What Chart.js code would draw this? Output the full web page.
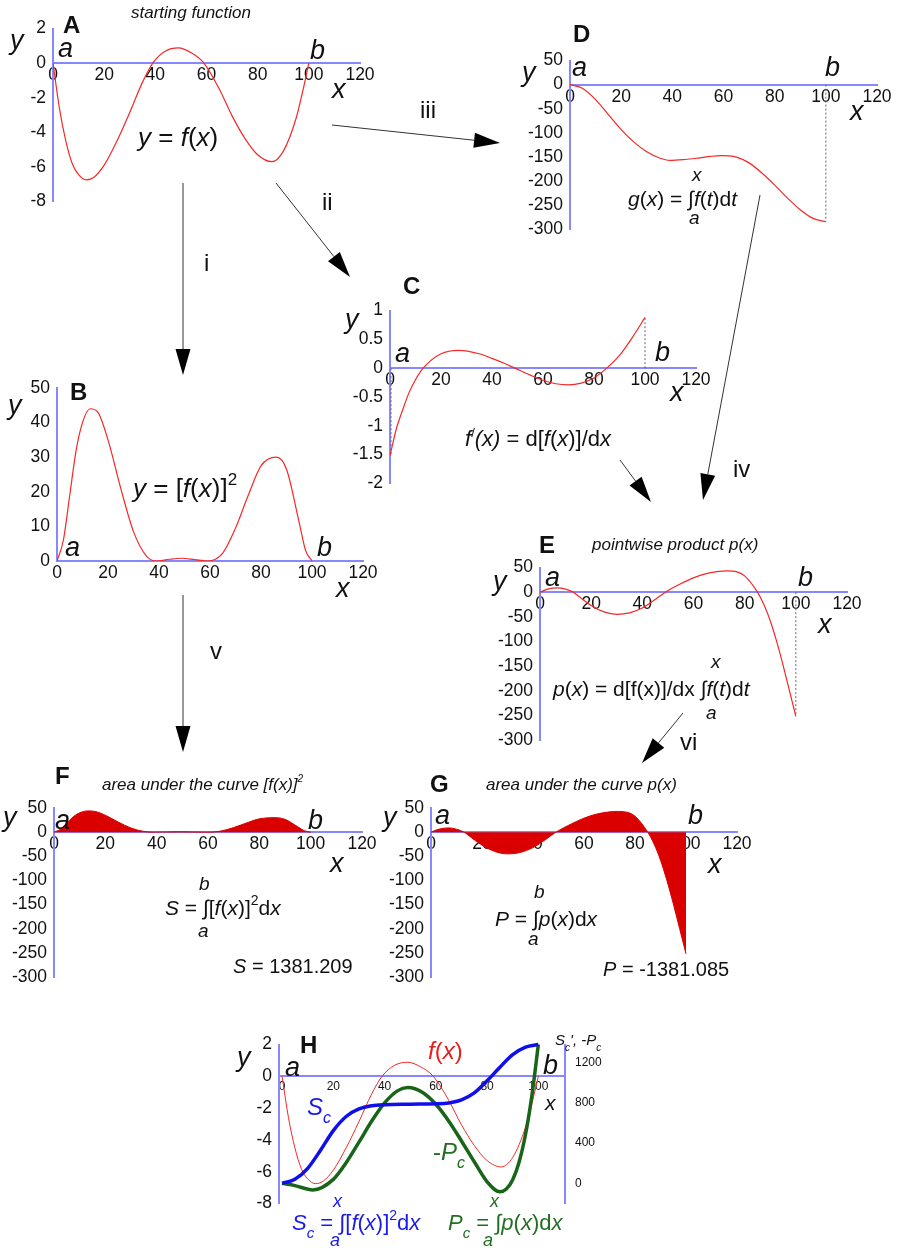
<!DOCTYPE html>
<html>
<head>
<meta charset="utf-8">
<script src="https://cdn.jsdelivr.net/npm/chart.js@4/dist/chart.umd.min.js"></script>
<style>
html,body{margin:0;padding:0;background:#fff;}
#page{position:relative;width:897px;height:1248px;overflow:hidden;background:#fff;}
#page canvas{position:absolute;left:0;top:0;}
#ov{position:absolute;left:0;top:0;pointer-events:none;}
#ov text{font-family:"Liberation Sans",Arial,sans-serif;fill:#111;}
#ov .it{font-style:italic;}
#ov .lt{font-weight:bold;font-size:24px;}
#ov .ax{font-style:italic;font-size:27px;}
#ov .cap{font-style:italic;font-size:17px;}
#ov .rn{font-size:24px;}
</style>
</head>
<body>
<div id="page">
<canvas id="cA" width="897" height="1248"></canvas>
<canvas id="cB" width="897" height="1248"></canvas>
<canvas id="cC" width="897" height="1248"></canvas>
<canvas id="cD" width="897" height="1248"></canvas>
<canvas id="cE" width="897" height="1248"></canvas>
<canvas id="cF" width="897" height="1248"></canvas>
<canvas id="cG" width="897" height="1248"></canvas>
<canvas id="cH" width="897" height="1248"></canvas>

<svg id="ov" width="897" height="1248" viewBox="0 0 897 1248">
  <!-- panel letters -->
  <text class="lt" x="63" y="33">A</text>
  <text class="lt" x="70" y="400">B</text>
  <text class="lt" x="403" y="294">C</text>
  <text class="lt" x="573" y="42">D</text>
  <text class="lt" x="539" y="553">E</text>
  <text class="lt" x="55" y="784">F</text>
  <text class="lt" x="430" y="792">G</text>
  <text class="lt" x="300" y="1053">H</text>

  <!-- captions -->
  <text class="cap" x="131" y="18">starting function</text>
  <text class="cap" x="592" y="550">pointwise product p(x)</text>
  <text class="cap" x="102" y="790">area under the curve [f(x)]<tspan font-size="10" dy="-8">2</tspan></text>
  <text class="cap" x="486" y="790">area under the curve p(x)</text>

  <!-- axis letters: A -->
  <text class="ax" x="10" y="49">y</text>
  <text class="ax" x="58" y="57">a</text>
  <text class="ax" x="310" y="59">b</text>
  <text class="ax" x="332" y="98">x</text>
  <!-- B -->
  <text class="ax" x="8" y="414">y</text>
  <text class="ax" x="65" y="556">a</text>
  <text class="ax" x="317" y="556">b</text>
  <text class="ax" x="336" y="597">x</text>
  <!-- C -->
  <text class="ax" x="345" y="328">y</text>
  <text class="ax" x="395" y="362">a</text>
  <text class="ax" x="655" y="361">b</text>
  <text class="ax" x="670" y="401">x</text>
  <!-- D -->
  <text class="ax" x="522" y="81">y</text>
  <text class="ax" x="572" y="76">a</text>
  <text class="ax" x="825" y="76">b</text>
  <text class="ax" x="850" y="120">x</text>
  <!-- E -->
  <text class="ax" x="493" y="590">y</text>
  <text class="ax" x="545" y="586">a</text>
  <text class="ax" x="798" y="586">b</text>
  <text class="ax" x="818" y="633">x</text>
  <!-- F -->
  <text class="ax" x="3" y="826">y</text>
  <text class="ax" x="55" y="829">a</text>
  <text class="ax" x="308" y="829">b</text>
  <text class="ax" x="330" y="872">x</text>
  <!-- G -->
  <text class="ax" x="383" y="826">y</text>
  <text class="ax" x="435" y="824">a</text>
  <text class="ax" x="688" y="824">b</text>
  <text class="ax" x="708" y="873">x</text>
  <!-- H -->
  <text class="ax" x="237" y="1066">y</text>
  <text class="ax" x="285" y="1076">a</text>
  <text class="ax" x="543" y="1074">b</text>
  <text class="it" x="545" y="1110" font-size="21">x</text>

  <!-- formulas -->
  <text x="138" y="146" font-size="26"><tspan class="it">y</tspan> = <tspan class="it">f</tspan>(<tspan class="it">x</tspan>)</text>
  <text x="133" y="497" font-size="26"><tspan class="it">y</tspan> = [<tspan class="it">f</tspan>(<tspan class="it">x</tspan>)]<tspan font-size="17" dy="-12">2</tspan></text>
  <text x="465" y="446" font-size="22"><tspan class="it">f</tspan><tspan font-size="13" dy="-9">/</tspan><tspan class="it" dy="9">(x)</tspan> = d[<tspan class="it">f</tspan>(<tspan class="it">x</tspan>)]/d<tspan class="it">x</tspan></text>

  <text x="628" y="206" font-size="21"><tspan class="it">g</tspan>(<tspan class="it">x</tspan>) = ∫<tspan class="it">f</tspan>(<tspan class="it">t</tspan>)d<tspan class="it">t</tspan></text>
  <text class="it" x="692" y="181" font-size="19">x</text>
  <text class="it" x="689" y="224" font-size="19">a</text>

  <text x="553" y="696" font-size="21"><tspan class="it">p</tspan>(<tspan class="it">x</tspan>) = d[f(x)]/dx ∫<tspan class="it">f</tspan>(<tspan class="it">t</tspan>)d<tspan class="it">t</tspan></text>
  <text class="it" x="711" y="668" font-size="19">x</text>
  <text class="it" x="706" y="719" font-size="19">a</text>

  <text x="165" y="915" font-size="21"><tspan class="it">S</tspan> = ∫[<tspan class="it">f</tspan>(<tspan class="it">x</tspan>)]<tspan font-size="14" dy="-10">2</tspan><tspan dy="10">d</tspan><tspan class="it">x</tspan></text>
  <text class="it" x="199" y="890" font-size="19">b</text>
  <text class="it" x="198" y="937" font-size="19">a</text>
  <text x="233" y="973" font-size="20"><tspan class="it">S</tspan> = 1381.209</text>

  <text x="495" y="926" font-size="21"><tspan class="it">P</tspan> = ∫<tspan class="it">p</tspan>(<tspan class="it">x</tspan>)d<tspan class="it">x</tspan></text>
  <text class="it" x="534" y="898" font-size="19">b</text>
  <text class="it" x="528" y="945" font-size="19">a</text>
  <text x="603" y="976" font-size="20"><tspan class="it">P</tspan> = -1381.085</text>

  <!-- H annotations -->
  <text x="428" y="1059" font-size="24" style="fill:rgb(230,30,30)"><tspan class="it">f</tspan>(<tspan class="it">x</tspan>)</text>
  <text x="307" y="1115" font-size="24" style="fill:rgb(25,25,235)"><tspan class="it">S</tspan><tspan class="it" font-size="16" dy="8">c</tspan></text>
  <text x="433" y="1160" font-size="24" style="fill:rgb(35,110,35)">-<tspan class="it">P</tspan><tspan class="it" font-size="16" dy="8">c</tspan></text>
  <text x="555" y="1045" font-size="15" class="it">S<tspan font-size="10" dy="6">c</tspan><tspan dy="-6">', -P</tspan><tspan font-size="10" dy="6">c</tspan></text>

  <text x="292" y="1230" font-size="22" style="fill:rgb(25,25,235)"><tspan class="it">S</tspan><tspan class="it" font-size="15" dy="8">c</tspan><tspan dy="-8"> = ∫[</tspan><tspan class="it">f</tspan>(<tspan class="it">x</tspan>)]<tspan font-size="14" dy="-10">2</tspan><tspan dy="10">d</tspan><tspan class="it">x</tspan></text>
  <text class="it" x="333" y="1207" font-size="18" style="fill:rgb(25,25,235)">x</text>
  <text class="it" x="330" y="1246" font-size="18" style="fill:rgb(25,25,235)">a</text>

  <text x="448" y="1230" font-size="22" style="fill:rgb(35,110,35)"><tspan class="it">P</tspan><tspan class="it" font-size="15" dy="8">c</tspan><tspan dy="-8"> = ∫</tspan><tspan class="it">p</tspan>(<tspan class="it">x</tspan>)d<tspan class="it">x</tspan></text>
  <text class="it" x="490" y="1207" font-size="18" style="fill:rgb(35,110,35)">x</text>
  <text class="it" x="483" y="1246" font-size="18" style="fill:rgb(35,110,35)">a</text>

  <!-- step labels -->
  <text class="rn" x="420" y="118">iii</text>
  <text class="rn" x="322" y="210">ii</text>
  <text class="rn" x="204" y="271">i</text>
  <text class="rn" x="733" y="477">iv</text>
  <text class="rn" x="210" y="659">v</text>
  <text class="rn" x="680" y="750">vi</text>

  <g id="arrows"></g>
</svg>
</div>

<script>
// ---- values read for each curve (x positions and y values) ----
// f(x), starting function
const fX = [0, 2.5, 5, 7.5, 10, 13, 16, 20, 25, 30, 35, 39, 44, 49, 54, 59, 65, 70, 75, 80, 85.5, 90, 95, 97.5, 100];
const fY = [0, -2.6, -4.5, -5.8, -6.45, -6.75, -6.6, -5.9, -4.5, -2.85, -1.1, 0, 0.7, 0.88, 0.6, 0, -1.5, -3.05, -4.35, -5.3, -5.7, -5.1, -3.2, -1.7, 0];

// [f(x)]^2
const sqX = [0, 2.5, 5, 7.5, 10, 13, 16, 20, 25, 30, 35, 39, 44, 49, 54, 59, 65, 70, 75, 80, 86, 90, 95, 97.5, 100];
const sqY = [0, 6, 19, 32, 40, 44, 43, 35, 21, 8.5, 1.5, 0, 0.5, 0.8, 0.4, 0, 2.3, 9.5, 19, 27.5, 30, 26.5, 11, 3, 0];

// f'(x)
const dfX = [0, 2.5, 5, 7.5, 10, 13, 20, 27, 35, 40, 45, 49, 55, 60, 65, 70, 75, 80, 85, 90, 95, 100];
const dfY = [-1.52, -1.05, -0.72, -0.42, -0.2, 0, 0.25, 0.31, 0.25, 0.17, 0.08, 0, -0.12, -0.21, -0.27, -0.29, -0.26, -0.17, 0, 0.22, 0.53, 0.88];

// g(x) = integral of f from a to x
const gX = [0, 5, 10, 15, 20, 25, 30, 35, 39, 45, 50, 55, 59, 65, 70, 75, 80, 85, 90, 95, 100];
const gY = [0, -8, -31, -62, -93, -119, -139, -152, -157, -155, -152, -148.5, -147, -150, -162, -183, -208, -235, -259, -277, -284];

// p(x) = f'(x) g(x)
const pX = [0, 3, 7, 10, 13, 15, 20, 25, 30, 35, 40, 45, 49, 55, 60, 65, 70, 73, 77, 80, 85, 87.5, 90, 92.5, 95, 97.5, 100];
const pY = [0, 6, 8.8, 6, 0, -8, -27, -40, -45, -42, -32, -15, 0, 17, 29, 37.5, 42, 43, 41, 33, 0, -25, -58, -100, -148, -200, -252];

// running integrals S_c and -P_c
const scX = [0, 5, 10, 15, 20, 25, 30, 35, 40, 50, 60, 65, 70, 75, 80, 85, 90, 95, 100];
const scY = [0, 40, 150, 330, 525, 665, 740, 772, 783, 788, 792, 800, 830, 900, 1020, 1155, 1280, 1355, 1381];
const pcX = [0, 5, 12, 20, 25, 30, 35, 40, 45, 49, 55, 60, 65, 70, 75, 80, 85, 87.5, 90, 92.5, 95, 97.5, 100];
const pcY = [0, -22, -65, 40, 205, 410, 620, 800, 920, 953, 902, 787, 621, 422, 215, 16, -84, -56, 37, 213, 489, 877, 1381];

// tick values
const xTicks120 = [0, 20, 40, 60, 80, 100, 120];
const xTicksH = [0, 20, 40, 60, 80, 100];
const rightTicksH = [0, 400, 800, 1200];

// ---- drawing ----
const PAGE_W = 897, PAGE_H = 1248;
const AXIS = 'rgb(135,135,255)';
const INK = '#111';
const RED = 'rgb(245,40,40)';
const FILL = 'rgb(218,0,0)';
const BLUE = 'rgb(15,15,235)';
const GREEN = 'rgb(25,100,25)';
const LEFT_W = 60;

Chart.defaults.font.family = '"Liberation Sans", Arial, sans-serif';
Chart.defaults.color = INK;

const plain = v => String(Math.round(v * 1000) / 1000);
const pts = (xs, ys) => xs.map((x, i) => ({x, y: ys[i]}));

function curve(xs, ys, color, width, extra) {
  return Object.assign({
    data: pts(xs, ys), borderColor: color, borderWidth: width,
    pointRadius: 0, cubicInterpolationMode: 'monotone', fill: false
  }, extra || {});
}

// dotted drop line at a given x
function dropLine(x, y0, y1) {
  return {data: [{x, y: y0}, {x, y: y1}], borderColor: '#666', borderWidth: 1,
          borderDash: [2, 2], pointRadius: 0, fill: false, tension: 0, clip: false};
}

function fixedTicks(list) {
  return s => { s.ticks = list.map(v => ({value: v})); };
}

function makePanel(id, box, xr, yr, datasets, o) {
  o = o || {};
  const rightW = o.right ? 40 : 0;
  const scales = {
    x: {
      type: 'linear', min: xr.min, max: xr.max, position: {y: 0}, z: o.axisOnTop ? 1 : 0,
      grid: {display: false, drawTicks: false},
      border: {display: true, color: AXIS, width: 2},
      ticks: {padding: o.xPad || 2, autoSkip: false, maxRotation: 0, minRotation: 0,
              font: {size: o.xFont || 17.5}, color: INK, callback: plain},
      afterBuildTicks: fixedTicks(xr.ticks)
    },
    y: {
      type: 'linear', position: 'left', min: yr.min, max: yr.max,
      grid: {display: false, drawTicks: false},
      border: {display: true, color: AXIS, width: 2},
      ticks: {stepSize: yr.step, padding: 7, autoSkip: false, font: {size: 17.5}, color: INK, callback: plain},
      afterFit: s => { s.width = LEFT_W; }
    }
  };
  if (o.right) {
    scales.y2 = {
      type: 'linear', position: 'right', min: o.right.min, max: o.right.max,
      grid: {display: false, drawTicks: false},
      border: {display: true, color: AXIS, width: 2},
      ticks: {padding: 10, autoSkip: false, font: {size: 12}, color: INK, callback: plain},
      afterBuildTicks: fixedTicks(o.right.ticks),
      afterFit: s => { s.width = rightW; }
    };
  }
  return new Chart(document.getElementById(id), {
    type: 'line',
    data: {datasets},
    options: {
      responsive: false, animation: false, events: [],
      layout: {autoPadding: false, padding: {
        left: box.l - LEFT_W, top: box.t, right: PAGE_W - box.r - rightW, bottom: PAGE_H - box.b}},
      plugins: {legend: {display: false}, tooltip: {enabled: false}},
      scales
    }
  });
}

const X120 = {min: 0, max: 120, ticks: xTicks120};

// A: starting function
makePanel('cA', {l: 53, r: 360, t: 28.5, b: 201.5}, X120, {min: -8, max: 2, step: 2},
  [curve(fX, fY, RED, 1.2)]);

// B: squared function
makePanel('cB', {l: 57, r: 363, t: 388, b: 561}, X120, {min: 0, max: 50, step: 10},
  [curve(sqX, sqY, RED, 1.2)]);

// C: derivative
makePanel('cC', {l: 390, r: 696, t: 310.5, b: 483.5}, X120, {min: -2, max: 1, step: 0.5},
  [curve(dfX, dfY, RED, 1.2), dropLine(0.4, 0, dfY[0]), dropLine(100, 0, dfY[dfY.length - 1])]);

// D: running integral of f
makePanel('cD', {l: 570, r: 877, t: 60.5, b: 229.5}, X120, {min: -300, max: 50, step: 50},
  [curve(gX, gY, RED, 1.2), dropLine(100, 0, gY[gY.length - 1])]);

// E: pointwise product
makePanel('cE', {l: 540, r: 847, t: 567.5, b: 740}, X120, {min: -300, max: 50, step: 50},
  [curve(pX, pY, RED, 1.2), dropLine(100, 0, pY[pY.length - 1])]);

// F: shaded area under [f(x)]^2
makePanel('cF', {l: 54, r: 362, t: 808, b: 977}, X120, {min: -300, max: 50, step: 50},
  [curve(sqX, sqY, FILL, 1, {fill: {value: 0}, backgroundColor: FILL})], {axisOnTop: true});

// G: shaded area under p(x)
makePanel('cG', {l: 431, r: 737, t: 808, b: 977}, X120, {min: -300, max: 50, step: 50},
  [curve(pX, pY, FILL, 1, {fill: {value: 0}, backgroundColor: FILL})], {axisOnTop: true});

// H: f(x) with the two running integrals on the right-hand axis
makePanel('cH', {l: 279, r: 565, t: 1044.5, b: 1203.5}, {min: -1.2, max: 110.4, ticks: xTicksH},
  {min: -8, max: 2, step: 2},
  [
    curve(fX, fY, RED, 1, {order: 3}),
    curve(pcX, pcY, GREEN, 3.5, {yAxisID: 'y2', order: 2, clip: false}),
    curve(scX, scY, BLUE, 3.5, {yAxisID: 'y2', order: 1, clip: false})
  ],
  {xFont: 12, xPad: 3, right: {min: -200, max: 1381.2, ticks: rightTicksH}});

// ---- connecting arrows between the panels ----
const arrows = [
  [332, 125, 500, 143],
  [276, 183, 350, 277],
  [183, 183, 183, 375],
  [760, 195, 703, 500],
  [620, 460, 651, 502],
  [183, 595, 183, 752],
  [683, 713, 642, 763]
];
const NS = 'http://www.w3.org/2000/svg';
const g = document.getElementById('arrows');
arrows.forEach(([x1, y1, x2, y2]) => {
  const dx = x2 - x1, dy = y2 - y1, len = Math.hypot(dx, dy);
  const ux = dx / len, uy = dy / len, L = 26, Wd = 7.5;
  const bx = x2 - ux * L, by = y2 - uy * L;
  const line = document.createElementNS(NS, 'line');
  line.setAttribute('x1', x1); line.setAttribute('y1', y1);
  line.setAttribute('x2', bx); line.setAttribute('y2', by);
  line.setAttribute('stroke', '#333'); line.setAttribute('stroke-width', '1');
  g.appendChild(line);
  const head = document.createElementNS(NS, 'polygon');
  head.setAttribute('points', `${x2},${y2} ${bx - uy * Wd},${by + ux * Wd} ${bx + uy * Wd},${by - ux * Wd}`);
  head.setAttribute('fill', '#000');
  g.appendChild(head);
});
</script>
</body>
</html>
